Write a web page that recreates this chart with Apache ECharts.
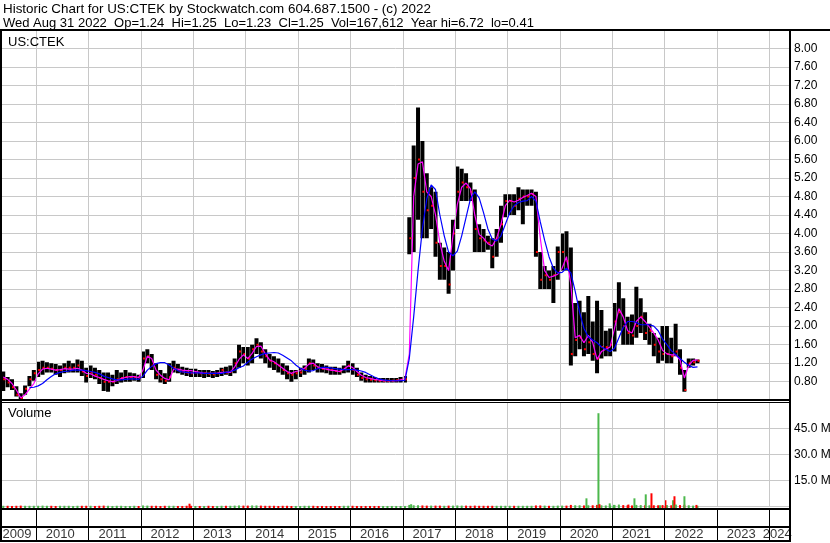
<!DOCTYPE html>
<html><head><meta charset="utf-8">
<script src="https://cdn.jsdelivr.net/npm/echarts@6/dist/echarts.min.js"></script>
<style>html,body{margin:0;padding:0;background:#fff}#c{width:830px;height:543px}</style>
</head><body><div id="c"></div>
<script>
// ---- DATA (monthly, May 2009 .. Aug 2022) ----
const startYear = 2009, startMonth = 5;
const high = [
 1.02,0.90,0.85,0.70,0.55,0.72,0.92,1.05,
 1.23,1.25,1.22,1.20,1.18,1.15,1.20,1.25,1.20,1.28,1.25,1.10,
 1.15,1.10,1.05,1.00,1.00,0.95,1.05,1.00,1.05,1.00,0.98,0.95,
 1.45,1.50,1.40,1.20,1.05,0.98,1.20,1.25,1.18,1.12,1.10,1.08,
 1.08,1.05,1.05,1.05,1.03,1.05,1.10,1.12,1.15,1.30,1.60,1.55,
 1.55,1.60,1.74,1.65,1.50,1.40,1.35,1.30,1.20,1.15,1.05,1.05,
 1.10,1.15,1.30,1.28,1.20,1.18,1.15,1.12,1.12,1.10,1.15,1.25,
 1.20,1.10,1.00,0.95,0.92,0.90,0.88,0.88,0.88,0.88,0.88,0.90,
 0.92,4.35,5.90,6.72,6.00,5.30,5.00,4.90,3.80,3.70,3.60,4.30,
 5.45,5.40,5.30,5.10,4.95,4.20,4.10,3.95,3.90,4.10,4.60,4.85,
 4.85,4.85,5.00,4.95,4.95,4.95,4.90,3.60,3.30,3.20,3.30,3.72,
 4.00,4.05,3.70,2.50,2.55,2.30,2.65,2.10,2.55,2.35,1.90,1.95,
 2.50,2.95,2.60,2.20,2.25,2.85,2.60,2.30,2.05,1.85,1.75,2.00,
 2.00,1.75,2.05,1.50,1.05,1.30,1.30,1.28
];
const low = [
 0.60,0.68,0.62,0.48,0.40,0.52,0.70,0.82,
 0.90,0.95,1.00,1.00,0.95,0.90,0.98,1.00,1.00,1.00,0.92,0.78,
 0.88,0.85,0.75,0.60,0.58,0.70,0.75,0.78,0.80,0.80,0.82,0.80,
 0.88,1.20,1.05,0.85,0.78,0.75,0.80,1.00,0.98,0.95,0.92,0.90,
 0.90,0.90,0.88,0.90,0.88,0.90,0.92,0.95,0.92,0.98,1.10,1.20,
 1.15,1.20,1.40,1.30,1.20,1.10,1.05,1.00,0.95,0.85,0.80,0.85,
 0.90,0.95,1.00,1.05,1.00,1.00,0.98,0.95,0.95,0.95,0.98,1.00,
 0.95,0.90,0.82,0.78,0.78,0.78,0.78,0.78,0.78,0.78,0.78,0.78,
 0.78,3.55,3.60,4.30,3.90,3.90,4.10,3.50,3.00,3.00,2.70,3.20,
 4.10,4.70,4.70,4.70,3.60,3.60,3.60,3.65,3.25,3.50,3.80,4.35,
 4.40,4.40,4.50,4.20,4.60,4.60,3.50,2.80,2.80,2.80,2.50,3.00,
 3.20,3.20,1.15,1.35,1.50,1.35,1.40,1.25,0.98,1.30,1.35,1.35,
 1.45,1.90,1.60,1.60,1.60,1.75,1.85,1.70,1.60,1.35,1.20,1.25,
 1.20,1.20,1.35,0.95,0.58,1.10,1.15,1.20
];
const close = [
 0.85,0.78,0.68,0.52,0.45,0.65,0.85,0.98,
 1.05,1.10,1.10,1.08,1.05,1.05,1.10,1.10,1.10,1.15,1.02,0.92,
 1.00,0.95,0.88,0.80,0.80,0.80,0.85,0.88,0.90,0.90,0.90,0.88,
 1.30,1.35,1.15,0.95,0.85,0.82,0.90,1.10,1.05,1.02,1.00,0.98,
 1.00,0.98,0.98,0.97,0.96,0.98,1.05,1.00,1.02,1.20,1.45,1.40,
 1.30,1.50,1.60,1.45,1.35,1.25,1.20,1.15,1.05,0.98,0.95,0.98,
 1.00,1.08,1.20,1.15,1.10,1.08,1.07,1.05,1.03,1.02,1.08,1.15,
 1.05,0.95,0.88,0.85,0.84,0.83,0.82,0.82,0.82,0.82,0.83,0.84,
 0.85,3.90,5.20,5.60,4.90,4.50,4.60,3.80,3.30,3.30,2.90,4.00,
 4.90,5.10,5.00,4.90,4.10,3.90,3.85,3.80,3.50,3.90,4.20,4.70,
 4.70,4.60,4.75,4.80,4.80,4.85,3.60,3.00,3.10,3.00,3.10,3.60,
 3.60,3.40,1.40,1.70,1.75,1.50,1.65,1.40,1.30,1.55,1.55,1.60,
 2.10,2.30,2.00,1.85,1.80,2.00,2.20,1.85,1.90,1.60,1.45,1.40,
 1.40,1.35,1.45,1.10,0.62,1.20,1.22,1.25
];
const maFast = [
 0.90,0.85,0.76,0.62,0.45,0.52,0.64,0.76,
 0.97,1.07,1.09,1.07,1.05,1.06,1.08,1.07,1.07,1.09,1.05,0.98,
 0.97,0.92,0.89,0.85,0.82,0.80,0.82,0.87,0.89,0.91,0.91,0.89,
 1.05,1.35,1.30,1.05,0.94,0.87,0.84,1.07,1.07,1.05,1.04,1.04,
 1.02,1.00,0.98,0.98,0.98,0.98,1.00,1.00,1.00,1.12,1.28,1.38,
 1.30,1.41,1.56,1.57,1.41,1.27,1.23,1.16,1.09,1.02,0.98,1.02,
 1.04,1.09,1.18,1.20,1.12,1.09,1.07,1.05,1.04,1.02,1.07,1.14,
 1.11,1.02,0.94,0.89,0.87,0.85,0.84,0.82,0.82,0.82,0.82,0.84,
 0.86,1.40,4.80,5.50,5.55,4.90,4.80,4.41,3.80,3.40,3.20,3.95,
 4.63,5.00,5.09,4.97,4.40,3.98,3.90,3.78,3.73,3.90,4.20,4.60,
 4.72,4.68,4.72,4.78,4.82,4.87,4.80,3.90,3.20,3.05,3.08,3.12,
 3.25,3.50,2.90,1.75,1.80,1.64,1.80,1.65,1.28,1.45,1.50,1.55,
 1.95,2.38,2.20,1.90,1.85,2.10,2.20,2.10,1.98,1.85,1.70,1.48,
 1.40,1.38,1.38,1.27,0.88,1.15,1.26,1.27
];
const maSlow = [
 null,null,null,null,null,null,0.67,0.68,
 0.71,0.76,0.84,0.91,0.97,1.00,1.02,1.03,1.05,1.05,1.05,1.04,
 1.02,1.00,0.97,0.92,0.89,0.86,0.84,0.84,0.85,0.86,0.86,0.85,
 0.92,1.05,1.13,1.19,1.21,1.21,1.16,1.09,1.04,1.01,1.00,0.99,
 0.99,0.99,0.98,0.98,0.98,0.98,0.98,1.00,1.02,1.05,1.10,1.14,
 1.22,1.29,1.34,1.38,1.41,1.42,1.43,1.42,1.37,1.31,1.25,1.16,
 1.09,1.05,1.03,1.04,1.08,1.11,1.11,1.10,1.08,1.07,1.06,1.06,
 1.06,1.05,1.03,1.00,0.95,0.90,0.86,0.84,0.83,0.82,0.82,0.82,
 0.83,1.30,2.20,3.20,4.10,4.75,5.05,4.95,4.40,3.95,3.60,3.52,
 3.62,3.95,4.35,4.75,4.90,4.77,4.45,4.10,3.88,3.84,3.95,4.20,
 4.45,4.60,4.67,4.70,4.71,4.80,4.70,4.25,3.85,3.50,3.25,3.15,
 3.16,3.25,3.15,2.75,2.30,1.95,1.77,1.70,1.64,1.55,1.50,1.45,
 1.52,1.75,1.97,2.10,2.10,2.08,2.03,2.03,2.03,2.00,1.90,1.72,
 1.60,1.47,1.39,1.30,1.22,1.15,1.11,1.12
];
// typical daily volume per month (millions)
const volBase = [
 0.3,0.3,0.2,0.3,0.4,0.3,0.3,0.3,
 0.3,0.4,0.3,0.3,0.2,0.3,0.3,0.3,0.2,0.3,0.3,0.3,
 0.3,0.2,0.3,0.4,0.3,0.2,0.3,0.3,0.2,0.2,0.3,0.2,
 0.5,0.4,0.3,0.3,0.2,0.3,0.3,0.3,0.2,0.2,0.3,0.3,
 0.2,0.2,0.2,0.3,0.2,0.2,0.3,0.3,0.3,0.4,0.5,0.4,
 0.4,0.5,0.5,0.4,0.3,0.3,0.3,0.2,0.3,0.3,0.2,0.2,
 0.2,0.3,0.3,0.3,0.2,0.2,0.2,0.2,0.2,0.2,0.3,0.3,
 0.3,0.2,0.2,0.2,0.2,0.2,0.2,0.2,0.2,0.2,0.2,0.2,
 0.2,0.8,0.6,0.6,0.5,0.4,0.4,0.4,0.4,0.3,0.4,0.4,
 0.5,0.4,0.4,0.3,0.4,0.3,0.3,0.3,0.3,0.3,0.3,0.3,
 0.3,0.3,0.3,0.3,0.3,0.3,0.5,0.5,0.4,0.3,0.3,0.4,
 0.4,0.4,0.8,0.6,0.6,0.5,0.6,0.6,0.8,0.6,0.5,0.5,
 0.8,1.0,0.7,0.6,0.5,0.8,0.7,0.6,0.6,0.6,0.6,0.7,
 0.7,0.6,0.8,0.7,0.9,0.6,0.4,0.3
];
// individual high-volume days (decimal year, millions, 1 = up day)
const volSpikeDate  = [2012.93,2017.16,2020.506,2020.735,2020.754,2020.95,2021.02,2021.307,2021.422,2021.638,2021.747,2021.91,2022.013,2022.159,2022.186,2022.21,2022.376,2022.605];
const volSpikeValue = [1.5,1.2,4.6,53.7,1.2,1.7,0.8,1.0,4.6,6.9,7.5,0.6,3.5,3.5,5.8,1.0,5.8,0.8];
const volSpikeUp    = [0,1,1,1,0,1,1,0,1,1,0,1,0,1,0,1,1,0];
const yearLabels = ['2009','2010','2011','2012','2013','2014','2015','2016','2017','2018','2019','2020','2021','2022','2023','2024'];
const gridYears = [2010,2011,2012,2013,2014,2015,2016,2017,2018,2019,2020,2021,2022,2023,2024];
const priceTicksMin = 0.4, priceTicksMax = 8.4, priceStep = 0.4;
const volMax = 60, volStep = 15;

// ---- CHART ----
const FONT = '"Liberation Sans", Arial, Helvetica, sans-serif';
const T0 = 2009.351, T1 = 2024.372;
const dates = high.map((_, i) => startYear + (startMonth - 1 + i + 0.5) / 12);
const priceData = dates.map((t, i) => [t, high[i], low[i], close[i]]);
const fastData = dates.map((t, i) => [t, maFast[i]]);
const slowData = dates.map((t, i) => [t, maSlow[i]]);
const volData = dates.map((t, i) => [t, volBase[i], (i > 0 && close[i] < close[i - 1]) ? 0 : 1])
  .concat(volSpikeDate.map((t, i) => [t, volSpikeValue[i], volSpikeUp[i]]));

const GRID = '#c8c8c8';
function yearLineSeries(xi, yi, color, yv) {
  return {
    type: 'line', xAxisIndex: xi, yAxisIndex: yi, data: [[T0, yv]], symbol: 'none',
    lineStyle: { opacity: 0 }, silent: true, z: 1, animation: false,
    markLine: { silent: true, symbol: ['none', 'none'], label: { show: false }, animation: false,
      lineStyle: { color: color, type: 'solid', width: 1 },
      emphasis: { disabled: true },
      data: gridYears.map(y => ({ xAxis: y })) }
  };
}

const chart = echarts.init(document.getElementById('c'), null, { renderer: 'canvas', width: 830, height: 543 });
const hideX = k => ({ type: 'value', gridIndex: k, min: T0, max: T1, show: false });
chart.setOption({
  animation: false,
  backgroundColor: '#fff',
  grid: [
    { left: 2, top: 29.8, width: 787, height: 370.4, containLabel: false, outerBoundsMode: 'none' },
    { left: 2, top: 402.3, width: 787, height: 104, containLabel: false, outerBoundsMode: 'none' },
    { left: 2, top: 509, width: 787, height: 32, containLabel: false, outerBoundsMode: 'none' },
    { left: 2, top: 527, width: 787, height: 14, containLabel: false, outerBoundsMode: 'none' }
  ],
  xAxis: [hideX(0), hideX(1), hideX(2), hideX(3)],
  yAxis: [
    { type: 'value', gridIndex: 0, position: 'right', min: priceTicksMin, max: priceTicksMax, interval: priceStep,
      axisLine: { show: false }, axisTick: { show: false },
      splitLine: { show: true, lineStyle: { color: GRID, width: 1 } },
      axisLabel: { margin: 5, color: '#000', fontSize: 12, fontFamily: FONT,
        formatter: v => (v < priceTicksMin + 0.2 || v > priceTicksMax - 0.2) ? '' : v.toFixed(2) } },
    { type: 'value', gridIndex: 1, position: 'right', min: 0, max: volMax, interval: volStep,
      axisLine: { show: false }, axisTick: { show: false },
      splitLine: { show: true, lineStyle: { color: GRID, width: 1 } },
      axisLabel: { margin: 5, color: '#000', fontSize: 12, fontFamily: FONT,
        formatter: v => (v === 0 || v === volMax) ? '' : v.toFixed(1) + ' M' } },
    { type: 'value', gridIndex: 2, min: 0, max: 1, show: false },
    { type: 'value', gridIndex: 3, min: 0, max: 1, show: false }
  ],
  series: [
    yearLineSeries(0, 0, GRID, 1),
    yearLineSeries(1, 1, GRID, 1),
    yearLineSeries(2, 2, '#000', 0.5),
    {
      type: 'custom', xAxisIndex: 0, yAxisIndex: 0, data: priceData, z: 3, clip: true, silent: true,
      renderItem: function (params, api) {
        const t = api.value(0);
        const pH = api.coord([t, api.value(1)]), pL = api.coord([t, api.value(2)]), pC = api.coord([t, api.value(3)]);
        const w = 4;
        return { type: 'group', children: [
          { type: 'rect', shape: { x: pH[0] - w / 2, y: pH[1], width: w, height: Math.max(1, pL[1] - pH[1]) }, style: { fill: '#000' } },
          { type: 'rect', shape: { x: pC[0], y: pC[1] - 1, width: 2, height: 2 }, style: { fill: '#ff0000' } }
        ] };
      }
    },
    { type: 'line', xAxisIndex: 0, yAxisIndex: 0, data: fastData, showSymbol: false, symbol: 'none', z: 4,
      lineStyle: { color: '#ff00ff', width: 1.2 }, silent: true },
    { type: 'line', xAxisIndex: 0, yAxisIndex: 0, data: slowData, showSymbol: false, symbol: 'none', z: 5,
      lineStyle: { color: '#0000ff', width: 1.2 }, silent: true, connectNulls: false },
    {
      type: 'custom', xAxisIndex: 1, yAxisIndex: 1, data: volData, z: 3, clip: false, silent: true,
      renderItem: function (params, api) {
        const t = api.value(0), v = api.value(1), up = api.value(2);
        const top = api.coord([t, v]), base = api.coord([t, 0]);
        const w = 2;
        return { type: 'rect', shape: { x: top[0] - w / 2, y: top[1], width: w, height: base[1] - top[1] + 2.2 },
          style: { fill: up ? '#4cb84c' : '#ff0000' } };
      }
    },
    {
      type: 'scatter', xAxisIndex: 3, yAxisIndex: 3, symbolSize: 1, itemStyle: { color: 'rgba(0,0,0,0)' }, silent: true,
      data: yearLabels.map(s => { const y = +s; const a = Math.max(y, T0), b = Math.min(y + 1, T1); return { value: [(a + b) / 2, 0.5], name: s }; }),
      label: { show: true, position: 'inside', formatter: p => p.name, color: '#000', fontSize: 13, fontFamily: FONT, offset: [-2, 0] }
    }
  ],
  graphic: [
    { type: 'text', x: 3, y: 9, z: 100, style: { text: 'Historic Chart for US:CTEK by Stockwatch.com 604.687.1500 - (c) 2022', fontSize: 13.4, fontFamily: FONT, fill: '#000', verticalAlign: 'middle' } },
    { type: 'text', x: 3, y: 23, z: 100, style: { text: 'Wed Aug 31 2022  Op=1.24  Hi=1.25  Lo=1.23  Cl=1.25  Vol=167,612  Year hi=6.72  lo=0.41', fontSize: 13, fontFamily: FONT, fill: '#000', verticalAlign: 'middle' } },
    { type: 'text', x: 8, y: 42, z: 100, style: { text: 'US:CTEK', fontSize: 13, fontFamily: FONT, fill: '#000', verticalAlign: 'middle' } },
    { type: 'text', x: 8, y: 413, z: 100, style: { text: 'Volume', fontSize: 13, fontFamily: FONT, fill: '#000', verticalAlign: 'middle' } },
    { type: 'rect', z: 100, shape: { x: 0, y: 29, width: 830, height: 2 }, style: { fill: '#000' } },
    { type: 'rect', z: 100, shape: { x: 0, y: 29, width: 2, height: 513 }, style: { fill: '#000' } },
    { type: 'rect', z: 100, shape: { x: 789, y: 29, width: 2, height: 513 }, style: { fill: '#000' } },
    { type: 'rect', z: 100, shape: { x: 0, y: 399, width: 791, height: 2 }, style: { fill: '#000' } },
    { type: 'rect', z: 100, shape: { x: 0, y: 402, width: 791, height: 1 }, style: { fill: '#000' } },
    { type: 'rect', z: 100, shape: { x: 0, y: 508, width: 791, height: 2 }, style: { fill: '#000' } },
    { type: 'rect', z: 100, shape: { x: 0, y: 526, width: 791, height: 2 }, style: { fill: '#000' } },
    { type: 'rect', z: 100, shape: { x: 0, y: 540, width: 791, height: 2 }, style: { fill: '#000' } }
  ]
});
</script>
</body></html>
